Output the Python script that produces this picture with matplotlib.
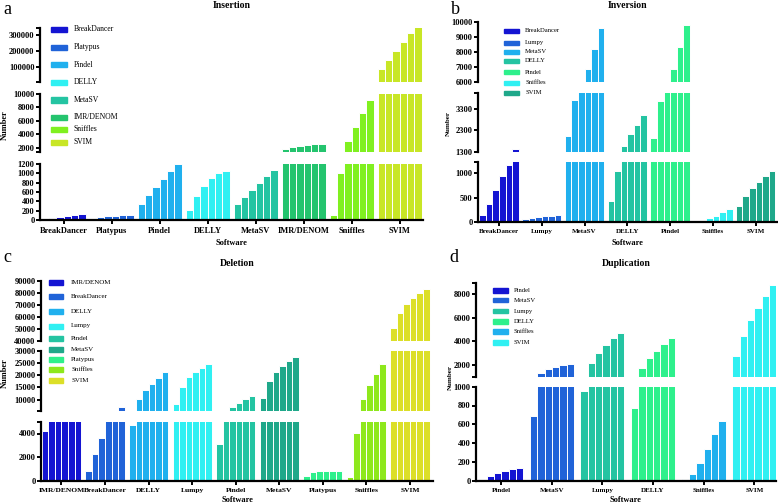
import matplotlib
matplotlib.use('Agg')
import matplotlib.pyplot as plt
from matplotlib.patches import Rectangle
import numpy as np

plt.rcParams['font.family'] = ['Liberation Serif', 'DejaVu Serif']

W, H = 778, 503

# ---------------- data ----------------
ins_software = ['BreakDancer', 'Platypus', 'Pindel', 'DELLY', 'MetaSV', 'IMR/DENOM', 'Sniffles', 'SVIM']
ins_values = [
    [20, 50, 75, 95, 110, 120],
    [30, 65, 90, 95, 110, 115],
    [350, 540, 700, 870, 1040, 1190],
    [225, 515, 735, 890, 1010, 1060],
    [340, 500, 650, 800, 950, 1070],
    [1750, 2050, 2250, 2450, 2500, 2600],
    [100, 1010, 3000, 5100, 7200, 9100],
    [88000, 145000, 202000, 258000, 313000, 350000],
]

inv_software = ['BreakDancer', 'Lumpy', 'MetaSV', 'DELLY', 'Pindel', 'Sniffles', 'SVIM']
inv_values = [
    [140, 375, 650, 940, 1180, 1440],
    [55, 75, 95, 110, 118, 130],
    [2050, 3700, 4800, 6860, 8200, 9580],
    [435, 1055, 1590, 2120, 2570, 3000],
    [1960, 3630, 5000, 6860, 8310, 9750],
    [8, 35, 75, 125, 195, 255],
    [330, 535, 700, 825, 940, 1045],
]

del_software = ['IMR/DENOM', 'BreakDancer', 'DELLY', 'Lumpy', 'Pindel', 'MetaSV', 'Platypus', 'Sniffles', 'SVIM']
del_values = [
    [4200, 5100, 5200, 5300, 5350, 5400],
    [830, 2280, 3580, 5100, 5300, 7000],
    [4730, 10300, 13900, 16500, 18700, 21100],
    [8400, 15200, 19100, 21300, 23000, 24400],
    [3080, 5300, 6900, 8700, 10300, 11500],
    [10800, 17500, 21200, 23800, 25800, 27300],
    [420, 700, 780, 800, 800, 800],
    [310, 4080, 10150, 15900, 20600, 24700],
    [51000, 63000, 70500, 75300, 80000, 83300],
]

dup_software = ['Pindel', 'MetaSV', 'Lumpy', 'DELLY', 'Sniffles', 'SVIM']
dup_values = [
    [20, 55, 80, 105, 125, 135],
    [688, 1340, 1680, 1850, 2000, 2110],
    [950, 2150, 3050, 3680, 4280, 4760],
    [775, 1750, 2570, 3200, 3800, 4300],
    [15, 70, 185, 335, 495, 637],
    [2770, 4480, 5800, 6870, 7850, 8770],
]

# colours
BLUE, ROYAL, SKY, CYAN = '#1414d2', '#2063d8', '#20b0ee', '#30f0f2'
TEAL, DTEAL, MINT, GREEN = '#24c4a2', '#1fa88a', '#2ef08c', '#24c46e'
ins_colors = [BLUE, ROYAL, SKY, CYAN, TEAL, GREEN, '#80f020', '#c8e626']
inv_colors = [BLUE, ROYAL, SKY, TEAL, MINT, CYAN, DTEAL]
del_colors = [BLUE, ROYAL, SKY, CYAN, TEAL, DTEAL, MINT, '#8ee81c', '#dcdf28']
dup_colors = [BLUE, ROYAL, TEAL, MINT, SKY, CYAN]


def box(x0, x1, y0, y1):
    return [x0 / W, 1 - y1 / H, (x1 - x0) / W, (y1 - y0) / H]


def panel(fig, names, values, colors, x0, x1, segs, xlim, xfs, yfs, gw=0.9):
    step = gw / 6
    for k, (ytop, ybot, lo, hi, ticks, labels) in enumerate(segs):
        ax = fig.add_axes(box(x0, x1, ytop, ybot))
        for i, (vals, c) in enumerate(zip(values, colors)):
            pos = i + (np.arange(len(vals)) - (len(vals) - 1) / 2) * step
            ax.bar(pos, vals, width=step, color=c, edgecolor='white', linewidth=0.7)
        ax.set_ylim(lo, hi)
        ax.set_xlim(*xlim)
        for s in ['top', 'right']:
            ax.spines[s].set_visible(False)
        ax.spines['left'].set_linewidth(1.6)
        ax.set_yticks(ticks)
        ax.set_yticklabels(labels, fontsize=yfs, fontweight='bold')
        ax.set_yticks([lo, hi], minor=True)
        ax.tick_params(axis='y', which='both', direction='out', length=3, width=1.4, pad=1)
        if k == len(segs) - 1:
            ax.spines['bottom'].set_linewidth(1.6)
            ax.set_xticks(range(len(names)))
            ax.set_xticklabels(names, fontsize=xfs, fontweight='bold')
            ax.tick_params(axis='x', direction='out', length=3, width=1.4, pad=2)
        else:
            ax.spines['bottom'].set_visible(False)
            ax.set_xticks([])
        ax.patch.set_alpha(0)


def legend(fig, names, colors, ys, px0, px1, tx, h, fs):
    for name, c, y in zip(names, colors, ys):
        fig.add_artist(Rectangle((px0 / W, 1 - (y + h / 2) / H), (px1 - px0) / W, h / H,
                                 transform=fig.transFigure, color=c))
        fig.text(tx / W, 1 - y / H, name, fontsize=fs, va='center', ha='left')


def ftext(x, y, s, **kw):
    fig.text(x / W, 1 - y / H, s, **kw)


fig = plt.figure(figsize=(W / 100, H / 100), dpi=100)

# a: Insertion
panel(fig, ins_software, ins_values, ins_colors, 40, 423,
      [(28.3, 81.7, 10000, 340000, [100000, 200000, 300000], ['100000', '200000', '300000']),
       (94, 151.7, 1400, 10000, [2000, 4000, 6000, 8000, 10000], ['2000', '4000', '6000', '8000', '10000']),
       (164, 220, 0, 1200, list(range(0, 1201, 200)), [str(v) for v in range(0, 1201, 200)])],
      (-0.494, 7.485), 6, 6, gw=0.917)
legend(fig, ins_software, ins_colors, [29.3, 47.3, 64.7, 82.3, 100, 117.3, 129, 142.3],
       50.7, 66.7, 74, 5, 5.5)
ftext(232, 0.5, 'Insertion', fontsize=7, fontweight='bold', ha='center', va='top')
ftext(3, 10, 'a', fontsize=13, ha='left', va='center')
ftext(5, 125, 'Number', fontsize=6, fontweight='bold', rotation=90, ha='center', va='center')
ftext(232, 243, 'Software', fontsize=6, fontweight='bold', ha='center', va='center')

# b: Inversion
panel(fig, inv_software, inv_values, inv_colors, 478, 777,
      [(21.7, 82.3, 6000, 10000, [6000, 7000, 8000, 9000, 10000], ['6000', '7000', '8000', '9000', '10000']),
       (93.3, 152.3, 1300, 4000, [1300, 2300, 3300], ['1300', '2300', '3300']),
       (162.3, 221.7, 0, 1230, [0, 500, 1000], ['0', '500', '1000'])],
      (-0.49, 6.5), 5, 6, gw=0.92)
legend(fig, inv_software, inv_colors, [30.7, 42.7, 51.7, 61, 72.3, 82.7, 92.7],
       504, 519, 525, 4, 4.8)
ftext(628, 0.5, 'Inversion', fontsize=7, fontweight='bold', ha='center', va='top')
ftext(451, 10, 'b', fontsize=13, ha='left', va='center')
ftext(448, 123, 'Number', fontsize=5, fontweight='bold', rotation=90, ha='center', va='center')
ftext(628, 243, 'Software', fontsize=6, fontweight='bold', ha='center', va='center')

# c: Deletion
panel(fig, del_software, del_values, del_colors, 41, 433,
      [(280.7, 340.7, 40000, 90000, list(range(40000, 90001, 10000)),
        [str(v) for v in range(40000, 90001, 10000)]),
       (350.7, 410.7, 5500, 30000, list(range(10000, 30001, 5000)),
        [str(v) for v in range(10000, 30001, 5000)]),
       (421.7, 480.7, 0, 5000, [0, 2000, 4000], ['0', '2000', '4000'])],
      (-0.47, 8.53), 5.4, 6, gw=0.9)
legend(fig, del_software, del_colors, [282.7, 296.7, 311.3, 326, 338.3, 349.3, 359.3, 369.3, 380.7],
       49, 63, 71, 5, 5)
ftext(237, 263, 'Deletion', fontsize=7, fontweight='bold', ha='center', va='center')
ftext(3, 258, 'c', fontsize=13, ha='left', va='center')
ftext(5, 373, 'Number', fontsize=6, fontweight='bold', rotation=90, ha='center', va='center')
ftext(237, 500, 'Software', fontsize=6, fontweight='bold', ha='center', va='center')

# d: Duplication
panel(fig, dup_software, dup_values, dup_colors, 476, 776,
      [(282.7, 376.7, 1000, 9000, [2000, 4000, 6000, 8000], ['2000', '4000', '6000', '8000']),
       (386.7, 480.7, 0, 1000, list(range(0, 1001, 200)), [str(v) for v in range(0, 1001, 200)])],
      (-0.5, 5.43), 5, 6, gw=0.87)
legend(fig, dup_software, dup_colors, [290.7, 300, 311, 321.7, 331.7, 342.3],
       493, 508, 514, 4.5, 4.8)
ftext(626, 263, 'Duplication', fontsize=7, fontweight='bold', ha='center', va='center')
ftext(449, 258, 'd', fontsize=13, ha='left', va='center')
ftext(450, 377, 'Number', fontsize=5, fontweight='bold', rotation=90, ha='center', va='center')
ftext(625, 500, 'Software', fontsize=6, fontweight='bold', ha='center', va='center')

fig.savefig('out.png', dpi=100)
plt.close(fig)
